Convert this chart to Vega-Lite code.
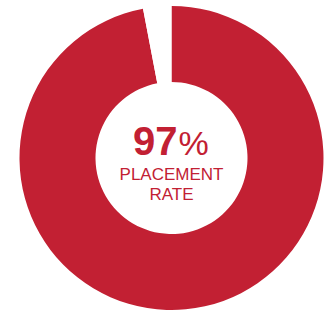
{
  "$schema": "https://vega.github.io/schema/vega-lite/v6.json",
  "autosize": {"type": "none"},
  "padding": {"left": 8, "top": 3, "right": 0, "bottom": 0},
  "width": 327,
  "height": 310,
  "background": "white",
  "config": {"view": {"stroke": null}},
  "datasets": {
    "share": [
      {"category": "Placed", "value": 97, "rank": 1},
      {"category": "Not placed", "value": 3, "rank": 2}
    ],
    "big": [{"label": "97"}],
    "pct": [{"label": "%"}],
    "line1": [{"label": "PLACEMENT"}],
    "line2": [{"label": "RATE"}]
  },
  "layer": [
    {
      "data": {"name": "share"},
      "mark": {"type": "arc", "outerRadius": 152, "innerRadius": 76},
      "encoding": {
        "theta": {"field": "value", "type": "quantitative", "stack": true},
        "order": {"field": "rank", "type": "quantitative"},
        "color": {
          "field": "category",
          "type": "nominal",
          "scale": {"domain": ["Placed", "Not placed"], "range": ["#C22033", "#FFFFFF"]},
          "legend": null
        }
      }
    },
    {
      "data": {"name": "big"},
      "mark": {"type": "text", "font": "Liberation Sans", "fontWeight": "bold", "fontSize": 40, "align": "right", "baseline": "alphabetic", "dx": 6, "dy": -3, "color": "#C22033"},
      "encoding": {"text": {"field": "label"}}
    },
    {
      "data": {"name": "pct"},
      "mark": {"type": "text", "font": "Liberation Sans", "fontWeight": "normal", "fontSize": 34, "align": "left", "baseline": "alphabetic", "dx": 7, "dy": -3, "color": "#C22033"},
      "encoding": {"text": {"field": "label"}}
    },
    {
      "data": {"name": "line1"},
      "mark": {"type": "text", "font": "Liberation Sans", "fontSize": 17, "align": "center", "baseline": "alphabetic", "dy": 22, "color": "#C22033"},
      "encoding": {"text": {"field": "label"}}
    },
    {
      "data": {"name": "line2"},
      "mark": {"type": "text", "font": "Liberation Sans", "fontSize": 17, "align": "center", "baseline": "alphabetic", "dy": 41.5, "color": "#C22033"},
      "encoding": {"text": {"field": "label"}}
    }
  ]
}
